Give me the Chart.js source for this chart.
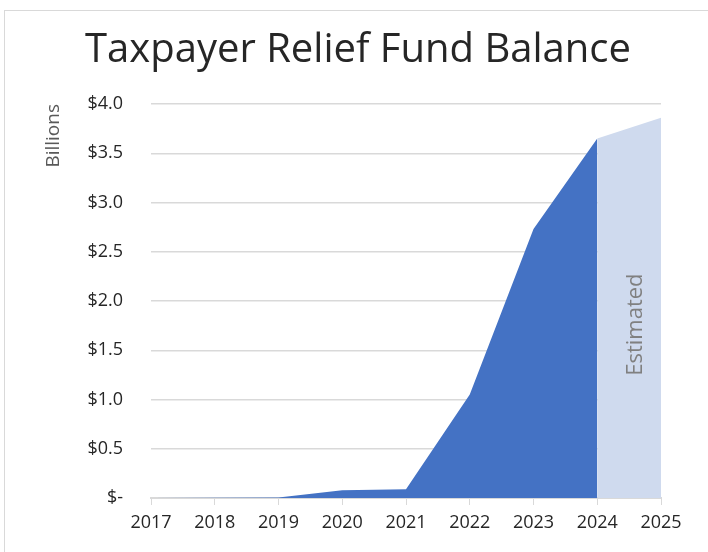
<!DOCTYPE html>
<html>
<head>
<meta charset="utf-8">
<script src="https://cdn.jsdelivr.net/npm/chart.js@4"></script>
<style>
  html, body { margin: 0; padding: 0; background: #fff; overflow: hidden; }
  #frame { position: absolute; left: 4px; top: 10px; width: 760px; height: 600px; border: 1px solid #d9d9d9; }
  #wrap { position: absolute; left: 0; top: 0; width: 708px; height: 552px; }
</style>
</head>
<body>
<div id="frame"></div>
<div id="wrap"><canvas id="fundChart" width="708" height="552"></canvas></div>
<script>
// fund balance, billions of dollars
const years = ["2017", "2018", "2019", "2020", "2021", "2022", "2023", "2024", "2025"];
const actualBalance = [0, 0.003, 0.006, 0.078, 0.088, 1.05, 2.73, 3.65, null];
const estimatedBalance = [null, null, null, null, null, null, null, 3.65, 3.86];
const yTicks = [0, 0.5, 1, 1.5, 2, 2.5, 3, 3.5, 4];

const chartTitle = "Taxpayer Relief Fund Balance";
const fontFamily = "'Open Sans', 'Noto Sans', sans-serif";

// title is drawn by hand: it sits centred on the page, not on the padded box
const titleText = {
    id: "titleText",
    afterDraw(chart) {
        const ctx = chart.ctx;
        ctx.save();
        ctx.font = "40px " + fontFamily;
        ctx.fillStyle = "#262626";
        ctx.textAlign = "center";
        ctx.textBaseline = "alphabetic";
        ctx.fillText(chartTitle, 358, 62);
        ctx.restore();
    }
};

// rotated "Estimated" label inside the estimate band
const estimateLabel = {
    id: "estimateLabel",
    afterDatasetsDraw(chart) {
        const x = chart.scales.x;
        const y = chart.scales.y;
        const cx = (x.getPixelForValue(7) + x.getPixelForValue(8)) / 2 + 7;
        const cy = y.getPixelForValue(1.76);
        const ctx = chart.ctx;
        ctx.save();
        ctx.translate(cx, cy);
        ctx.rotate(-Math.PI / 2);
        ctx.font = "22px " + fontFamily;
        ctx.fillStyle = "#808080";
        ctx.textAlign = "center";
        ctx.textBaseline = "middle";
        ctx.fillText("Estimated", 0, 0);
        ctx.restore();
    }
};

const ctx = document.getElementById("fundChart").getContext("2d");
new Chart(ctx, {
    type: "line",
    data: {
        labels: years,
        datasets: [{
            label: "Balance",
            data: actualBalance,
            backgroundColor: "#4472C4",
            borderWidth: 0,
            pointRadius: 0,
            fill: "origin",
            tension: 0
        }, {
            label: "Estimated",
            data: estimatedBalance,
            backgroundColor: "#CFDAEE",
            borderWidth: 0,
            pointRadius: 0,
            fill: "origin",
            tension: 0
        }]
    },
    options: {
        animation: false,
        responsive: false,
        layout: { padding: { left: 42, right: 47, top: 104, bottom: 0 } },
        plugins: {
            legend: { display: false },
            tooltip: { enabled: false },
            title: { display: false }
        },
        scales: {
            x: {
                grid: { drawOnChartArea: false, drawTicks: true, tickLength: 7, color: "#d9d9d9" },
                border: { color: "#d9d9d9", width: 2 },
                ticks: { color: "#262626", font: { family: fontFamily, size: 18 }, padding: 7, maxRotation: 0 },
                afterFit(scale) { scale.height = 54; }
            },
            y: {
                min: 0,
                max: 4,
                afterBuildTicks(scale) { scale.ticks = yTicks.map(v => ({ value: v })); },
                grid: { color: "#d9d9d9", drawTicks: false, lineWidth: 1.5 },
                border: { display: false },
                ticks: {
                    color: "#262626",
                    font: { family: fontFamily, size: 18 },
                    padding: 28,
                    callback: v => v === 0 ? "$-" : "$" + v.toFixed(1)
                },
                title: {
                    display: true,
                    text: "Billions",
                    align: "end",
                    color: "#595959",
                    font: { family: fontFamily, size: 19 },
                    padding: { top: 0, bottom: 0 }
                },
                afterFit(scale) { scale.width = 109; }
            }
        }
    },
    plugins: [titleText, estimateLabel]
});
</script>
</body>
</html>
